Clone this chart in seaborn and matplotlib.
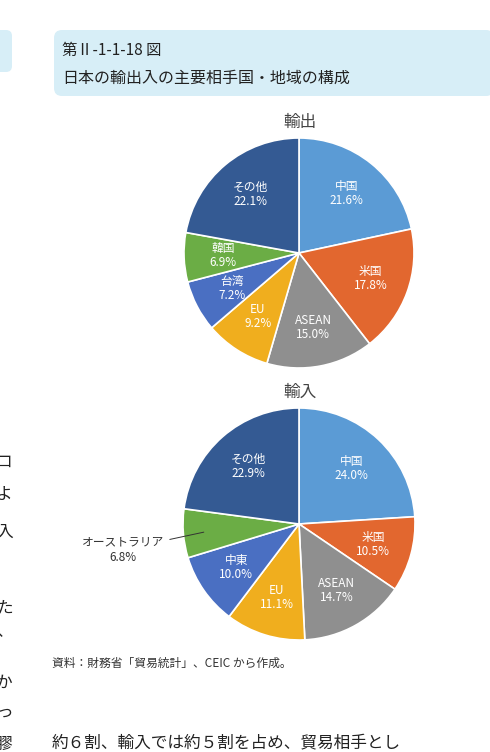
import matplotlib
matplotlib.use("Agg")
import matplotlib.pyplot as plt
import seaborn as sns
from matplotlib.patches import FancyBboxPatch
import numpy as np

sns.set_theme(style="white")
plt.rcParams['font.family'] = ['Noto Sans CJK JP', 'DejaVu Sans']

exp_labels = ["中国", "米国", "ASEAN", "EU", "台湾", "韓国", "その他"]
exp_values = [21.6, 17.8, 15.0, 9.2, 7.2, 6.9, 22.1]
imp_labels = ["中国", "米国", "ASEAN", "EU", "中東", "オーストラリア", "その他"]
imp_values = [24.0, 10.5, 14.7, 11.1, 10.0, 6.8, 22.9]
colors = ["#5B9BD5", "#E2672F", "#8F8F8F", "#F0AE1E", "#4A6FC2", "#6BAD45", "#345A93"]

W, H = 490, 752
fig = plt.figure(figsize=(W/100, H/100), dpi=100)

def fx(x): return x / W
def fy(y): return 1 - y / H

# header boxes
bg = fig.add_axes([0, 0, 1, 1]); bg.set_axis_off(); bg.set_xlim(0, W); bg.set_ylim(H, 0)
bg.add_patch(FancyBboxPatch((54, 30), 440, 66, boxstyle="round,pad=0,rounding_size=8",
                            fc="#D7EEF7", ec="none"))
bg.add_patch(FancyBboxPatch((-10, 30), 22, 42, boxstyle="round,pad=0,rounding_size=6",
                            fc="#D7EEF7", ec="none"))
bg.text(62, 50, "第Ⅱ-1-1-18 図", fontsize=11, va="center", color="#222")
bg.text(62, 78, "日本の輸出入の主要相手国・地域の構成", fontsize=11.5, va="center", color="#222")
bg.text(300, 122, "輸出", fontsize=12, ha="center", va="center", color="#444")
bg.text(300, 392, "輸入", fontsize=12, ha="center", va="center", color="#444")
bg.text(52, 663, "資料：財務省「貿易統計」、CEIC から作成。", fontsize=8.5, va="center", color="#333")
bg.text(52, 743, "約６割、輸入では約５割を占め、貿易相手とし", fontsize=12, va="center", color="#222")
for y, ch in [(462, "ロ"), (495, "よ"), (532, "入"), (608, "た"), (632, "、"), (683, "か"), (712, "っ"), (744, "膠")]:
    bg.text(-4, y, ch, fontsize=12, va="center", color="#222")

def draw_pie(cx, cy, r, labels, values, skip=()):
    ax = fig.add_axes([fx(cx - r), fy(cy + r), 2*r/W, 2*r/H])
    wedges, _ = ax.pie(values, colors=colors, startangle=90, counterclock=False,
                       radius=1, wedgeprops=dict(edgecolor="white", linewidth=1.2))
    ax.set_xlim(-1, 1); ax.set_ylim(-1, 1); ax.set_aspect("equal"); ax.set_axis_off()
    for w, lab, v in zip(wedges, labels, values):
        ang = np.deg2rad((w.theta1 + w.theta2) / 2)
        x, y = 0.66*np.cos(ang), 0.66*np.sin(ang)
        if lab in skip:
            ax.annotate(f"{lab}\n{v:.1f}%", xy=(0.8*np.cos(ang), 0.8*np.sin(ang)),
                        xytext=(-1.52, -0.22), ha="center", va="center", fontsize=8.5,
                        color="#333", annotation_clip=False,
                        arrowprops=dict(arrowstyle="-", color="#333", lw=0.7))
        else:
            ax.text(x, y, f"{lab}\n{v:.1f}%", ha="center", va="center",
                    fontsize=8.5, color="white", linespacing=1.1)
    return ax

draw_pie(299, 253, 115, exp_labels, exp_values)
draw_pie(299, 524, 116, imp_labels, imp_values, skip=("オーストラリア",))

fig.savefig("out.png", dpi=100)
